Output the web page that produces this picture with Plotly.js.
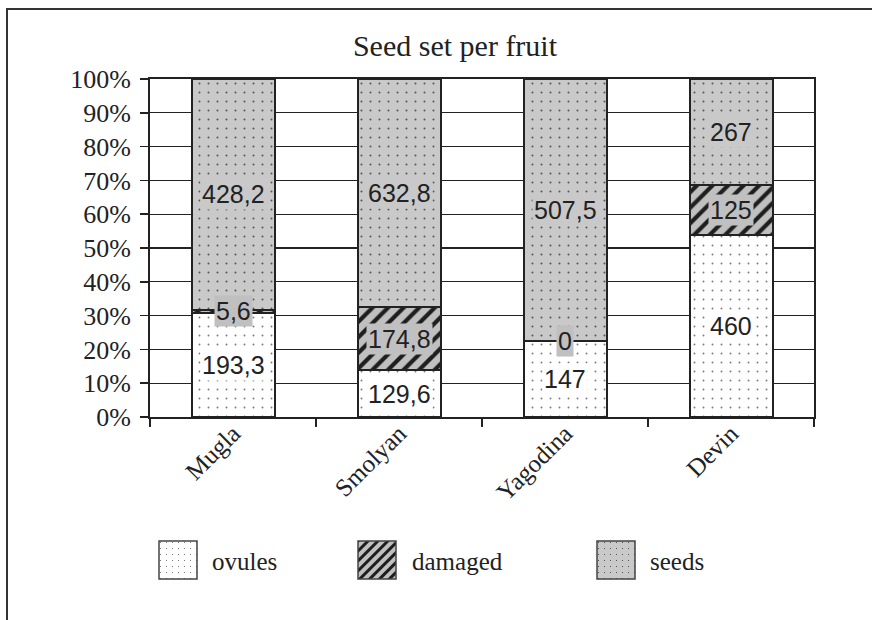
<!DOCTYPE html>
<html>
<head>
<meta charset="utf-8">
<script src="https://cdn.plot.ly/plotly-3.0.1.min.js"></script>
<style>
html,body{margin:0;padding:0;background:#ffffff;}
#chart{width:872px;height:620px;}
</style>
</head>
<body>
<div id="chart"></div>
<script>
// ---- data ----
const categories = ['Mugla', 'Smolyan', 'Yagodina', 'Devin'];
const seriesNames = ['ovules', 'damaged', 'seeds'];
const ovules = [193.3, 129.6, 147, 460];
const damaged = [5.6, 174.8, 0, 125];
const seeds = [428.2, 632.8, 507.5, 267];
const yTickVals = [0, 10, 20, 30, 40, 50, 60, 70, 80, 90, 100];
const yTickText = ['0%', '10%', '20%', '30%', '40%', '50%', '60%', '70%', '80%', '90%', '100%'];
const chartTitle = 'Seed set per fruit';

// ---- styles ----
const seriesValues = [ovules, damaged, seeds];
const styles = [
  {bg: '#ffffff', fg: '#7a7a7a', shape: '.', size: 9, solidity: 0.035},
  {bg: '#c0c0c0', fg: '#1e1e1e', shape: '/', size: 11, solidity: 0.38},
  {bg: '#c9c9c9', fg: '#555555', shape: '.', size: 9, solidity: 0.04}
];
const ink = '#222222';
const serif = 'Liberation Serif, Times New Roman, serif';
const sans = 'Liberation Sans, Arial, sans-serif';

// plot box geometry (px)
const W = 872, H = 620;
const L = 150, R = 58, T = 79, B = 203;
const PW = W - L - R, PH = H - T - B;
const px2x = p => (p - L) / PW;
const py2y = p => (H - B - p) / PH;

const traces = seriesValues.map((vals, i) => ({
  type: 'bar',
  name: seriesNames[i],
  x: categories,
  y: vals,
  marker: {
    color: styles[i].bg,
    line: {color: ink, width: 2},
    pattern: {
      shape: styles[i].shape,
      fgcolor: styles[i].fg,
      bgcolor: styles[i].bg,
      size: styles[i].size,
      solidity: styles[i].solidity,
      fillmode: 'replace'
    }
  },
  textposition: 'none',
  hoverinfo: 'skip',
  showlegend: false
}));

// data labels, placed at the middle of each stacked segment (percent scale)
const totals = categories.map((c, j) => seriesValues.reduce((s, arr) => s + arr[j], 0));
const annotations = [];
categories.forEach((cat, j) => {
  let base = 0;
  seriesValues.forEach((arr, i) => {
    const pct = arr[j] / totals[j] * 100;
    annotations.push({
      x: cat, y: base + pct / 2, xref: 'x', yref: 'y',
      text: String(arr[j]).replace('.', ','),
      showarrow: false,
      font: {family: sans, size: 25, color: ink},
      bgcolor: styles[i].bg,
      borderpad: 1
    });
    base += pct;
  });
});

// legend built from swatch images + series names
function swatchSvg(i) {
  let pat;
  if (i === 1) {
    pat = "<pattern id='p' width='7' height='7' patternUnits='userSpaceOnUse' patternTransform='rotate(45)'>" +
          "<rect width='7' height='7' fill='" + styles[i].bg + "'/><rect width='3' height='7' fill='" + styles[i].fg + "'/></pattern>";
  } else {
    pat = "<pattern id='p' width='6' height='6' patternUnits='userSpaceOnUse'>" +
          "<rect width='6' height='6' fill='" + styles[i].bg + "'/><rect x='2' y='2' width='1' height='1' fill='" + styles[i].fg + "'/></pattern>";
  }
  const svg = "<svg xmlns='http://www.w3.org/2000/svg' width='40' height='40' viewBox='0 0 40 40'><defs>" + pat +
    "</defs><rect x='1' y='1' width='38' height='38' fill='url(#p)' stroke='#444' stroke-width='1.5'/></svg>";
  return 'data:image/svg+xml;charset=utf-8,' + encodeURIComponent(svg);
}
const legendSwatchX = [158, 357, 596];
const legendTextX = [210, 410, 648];
const legendTop = 540, legendMid = 561;
const images = seriesNames.map((n, i) => ({
  source: swatchSvg(i),
  xref: 'paper', yref: 'paper',
  x: px2x(legendSwatchX[i]), y: py2y(legendTop),
  sizex: 40 / PW, sizey: 40 / PH,
  sizing: 'stretch', xanchor: 'left', yanchor: 'top', layer: 'above'
}));
seriesNames.forEach((n, i) => {
  annotations.push({
    xref: 'paper', yref: 'paper',
    x: px2x(legendTextX[i]), y: py2y(legendMid),
    xanchor: 'left', yanchor: 'middle',
    text: n, showarrow: false,
    font: {family: serif, size: 25, color: ink}
  });
});

const layout = {
  width: W, height: H,
  margin: {l: L, r: R, t: T, b: B, pad: 0},
  paper_bgcolor: '#ffffff',
  plot_bgcolor: '#ffffff',
  barmode: 'stack',
  barnorm: 'percent',
  bargap: 0.5,
  showlegend: false,
  title: {
    text: chartTitle,
    font: {family: serif, size: 30, color: ink},
    xref: 'container', x: 455 / W, xanchor: 'center',
    yref: 'container', y: 1 - 45 / H, yanchor: 'middle'
  },
  xaxis: {
    type: 'category',
    tickson: 'boundaries',
    ticks: 'outside', ticklen: 8, tickwidth: 1.5, tickcolor: ink,
    tickangle: -45,
    ticklabelstandoff: -10,
    tickfont: {family: serif, size: 25, color: ink},
    showline: true, linecolor: ink, linewidth: 2, mirror: true,
    showgrid: false, zeroline: false
  },
  yaxis: {
    range: [0, 100],
    tickmode: 'array', tickvals: yTickVals, ticktext: yTickText,
    ticks: 'outside', ticklen: 8, tickwidth: 1.5, tickcolor: ink,
    ticklabelstandoff: 4,
    tickfont: {family: serif, size: 26, color: ink},
    showline: true, linecolor: ink, linewidth: 2, mirror: true,
    showgrid: true, gridcolor: ink, gridwidth: 1.3,
    zeroline: false
  },
  shapes: [{
    type: 'rect', xref: 'paper', yref: 'paper', layer: 'below',
    x0: px2x(7), x1: px2x(900), y0: py2y(640), y1: py2y(9),
    line: {color: '#333333', width: 2}, fillcolor: 'rgba(0,0,0,0)'
  }],
  images: images,
  annotations: annotations
};

Plotly.newPlot('chart', traces, layout, {staticPlot: true, displayModeBar: false});
</script>
</body>
</html>
